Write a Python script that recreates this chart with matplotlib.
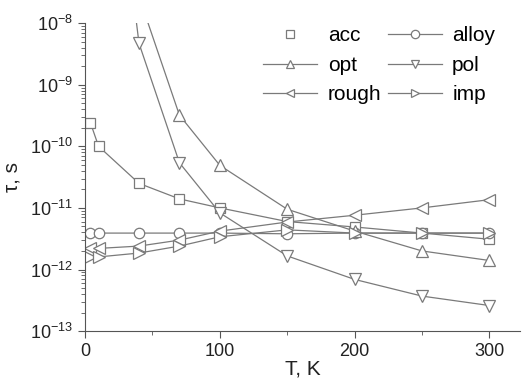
import matplotlib

matplotlib.use("Agg")
import matplotlib.pyplot as plt  # noqa: E402
from matplotlib.lines import Line2D  # noqa: E402

plt.rcParams["font.family"] = ["Liberation Sans", "DejaVu Sans"]
plt.rcParams["mathtext.default"] = "regular"

# temperatures (K) and relaxation times (s)
T_acc = [4, 10, 40, 70, 100, 150, 200, 250, 300]
tau_acc = [2.4e-10, 1.0e-10, 2.5e-11, 1.4e-11, 1.0e-11, 6.0e-12, 4.9e-12, 3.9e-12, 3.1e-12]

T_alloy = [4, 10, 40, 70, 100, 150, 200, 250, 300]
tau_alloy = [3.9e-12, 3.9e-12, 3.9e-12, 3.9e-12, 3.9e-12, 3.8e-12, 3.9e-12, 3.9e-12, 3.9e-12]

T_opt = [40, 70, 100, 150, 200, 250, 300]
tau_opt = [2.7e-8, 3.2e-10, 4.9e-11, 9.5e-12, 4.2e-12, 2.0e-12, 1.4e-12]

T_pol = [10, 40, 70, 100, 150, 200, 250, 300]
tau_pol = [1e-3, 4.7e-9, 5.4e-11, 8.3e-12, 1.66e-12, 6.9e-13, 3.7e-13, 2.6e-13]

T_rough = [4, 10, 40, 70, 100, 150, 200, 250, 300]
tau_rough = [2.2e-12, 2.2e-12, 2.4e-12, 3.0e-12, 4.2e-12, 5.9e-12, 7.6e-12, 1.0e-11, 1.36e-11]

T_imp = [4, 10, 40, 70, 100, 150, 200, 250, 300]
tau_imp = [1.6e-12, 1.6e-12, 1.85e-12, 2.4e-12, 3.4e-12, 4.4e-12, 3.9e-12, 3.9e-12, 3.9e-12]

GREY = "#7a7a7a"
series = [
    ("acc", T_acc, tau_acc, "s", 7),
    ("alloy", T_alloy, tau_alloy, "o", 7.5),
    ("opt", T_opt, tau_opt, "^", 8.5),
    ("pol", T_pol, tau_pol, "v", 8.5),
    ("rough", T_rough, tau_rough, "<", 8.5),
    ("imp", T_imp, tau_imp, ">", 8.5),
]

fig = plt.figure(figsize=(5.22, 3.85), dpi=100)
ax = fig.add_axes([0.163, 0.140, 0.834, 0.800])

handles = {}
for name, xs, ys, m, ms in series:
    ax.plot(xs, ys, color=GREY, lw=0.9, marker=m, ms=ms, mfc="white",
            mec=GREY, mew=0.9)
    handles[name] = Line2D([], [], color=GREY, lw=0.9, marker=m, ms=6,
                           mfc="white", mec=GREY, mew=0.9,
                           linestyle="none" if name == "acc" else "-")

ax.set_yscale("log")
ax.set_ylim(1e-13, 1e-8)
ax.set_xlim(0, 323)
ax.set_xticks([0, 100, 200, 300])
ax.set_xticks([50, 150, 250], minor=True)

for side in ("top", "right"):
    ax.spines[side].set_visible(False)
for side in ("left", "bottom"):
    ax.spines[side].set_color("#555555")
ax.tick_params(which="major", direction="out", length=5, color="#555555",
               labelsize=13, labelcolor="#222222")
ax.tick_params(which="minor", direction="out", length=3, color="#555555")

ax.set_xlabel("T, K", fontsize=15, color="#222222", labelpad=0)
ax.set_ylabel("τ, s", fontsize=15, color="#222222", labelpad=6)

order = ["acc", "opt", "rough", "alloy", "pol", "imp"]
ax.legend([handles[n] for n in order], order, ncol=2, frameon=False,
          fontsize=15, loc="upper right", bbox_to_anchor=(0.985, 1.05),
          handlelength=2.6, columnspacing=0.3, labelspacing=0.5,
          handletextpad=0.5)

fig.savefig("out.png", dpi=100)
